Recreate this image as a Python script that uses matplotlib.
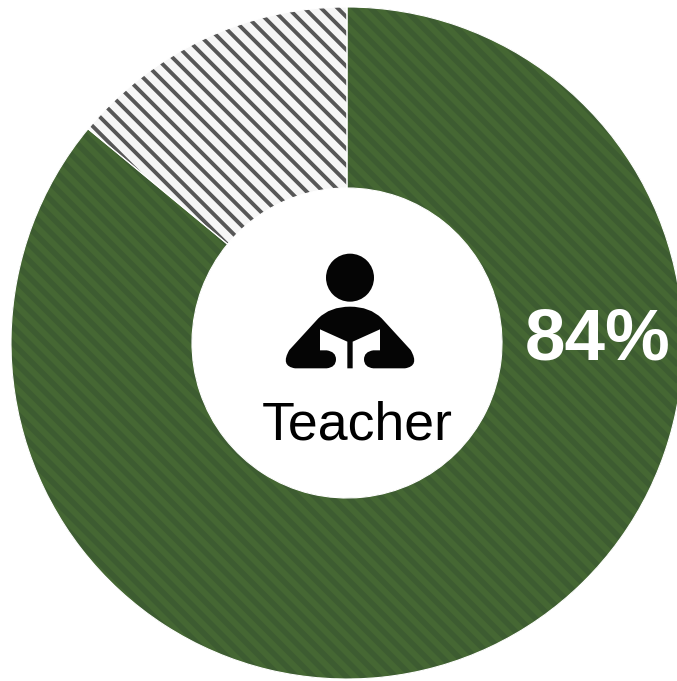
import matplotlib
matplotlib.use("Agg")
import matplotlib.pyplot as plt
from matplotlib.collections import LineCollection
from matplotlib.patches import Circle, PathPatch
from matplotlib.path import Path

# shares as drawn (the printed label says 84)
labels = ["Teacher", "Other"]
values = [86, 14]
face_colors = ["#456733", "#f6f6f6"]
stripe_colors = ["#3d5c31", "#575757"]
stripe_widths = [4.0, 2.8]
center_label = "84%"

plt.rcParams['font.family'] = ['Liberation Sans', 'DejaVu Sans']

W, H = 677, 681
fig = plt.figure(figsize=(W / 100, H / 100), dpi=100)
ax = fig.add_axes([0, 0, 1, 1])

cx, cy = 347, H - 343
wedges, _ = ax.pie(values, center=(cx, cy), radius=336, startangle=90, counterclock=False,
                   colors=face_colors, wedgeprops=dict(width=181, linewidth=0))

# diagonal stripes clipped to each slice, hatch gave no control of the width
period = 16.5
for i in range(len(wedges)):
    segs = []
    for k in range(-60, 60):
        c = 796 + k * period
        segs.append([(c - H - 50, H + 50), (c + 50, -50)])
    lc = LineCollection(segs, colors=stripe_colors[i], linewidths=stripe_widths[i], zorder=2)
    ax.add_collection(lc, autolim=False)
    lc.set_clip_path(wedges[i])

# thin white seams between the slices
ax.pie(values, center=(cx, cy), radius=336, startangle=90, counterclock=False,
       wedgeprops=dict(width=181, fill=False, edgecolor="white", linewidth=0.8, zorder=3))
ax.set_xlim(0, W)
ax.set_ylim(0, H)
ax.axis("off")

# reader icon, traced in zoomed pixels
def px(zx, zy):
    return (260 + zx / 3, H - (240 + zy / 3))

ax.add_patch(Circle(px(270, 113), 24, color="#050505", lw=0))

M, L, C, Z = Path.MOVETO, Path.LINETO, Path.CURVE3, Path.CLOSEPOLY
body = [(M, (105, 385)), (C, (60, 378)), (L, (88, 330)),
        (L, (175, 235)), (C, (210, 200)), (L, (270, 200)), (C, (330, 200)), (L, (365, 235)),
        (L, (452, 330)), (C, (480, 378)), (L, (435, 385)),
        (L, (340, 385)), (C, (312, 382)), (L, (312, 358)), (C, (312, 335)), (L, (340, 331)),
        (L, (360, 331)), (L, (360, 268)), (L, (278, 305)), (L, (278, 385)), (L, (262, 385)),
        (L, (262, 305)), (L, (180, 268)), (L, (180, 331)), (L, (200, 331)),
        (C, (228, 335)), (L, (228, 358)), (C, (228, 382)), (L, (200, 385)),
        (L, (105, 385)), (Z, (105, 385))]
codes = [b[0] for b in body]
verts = [px(*b[1]) for b in body]
ax.add_patch(PathPatch(Path(verts, codes), facecolor="#050505", lw=0))

ax.text(357.5, H - 439, labels[0], ha="center", va="baseline", fontsize=38.6, color="black")
ax.text(598, H - 359, center_label, ha="center", va="baseline", fontsize=52.5, fontweight="bold", color="white")

fig.savefig("out.png", dpi=100)
